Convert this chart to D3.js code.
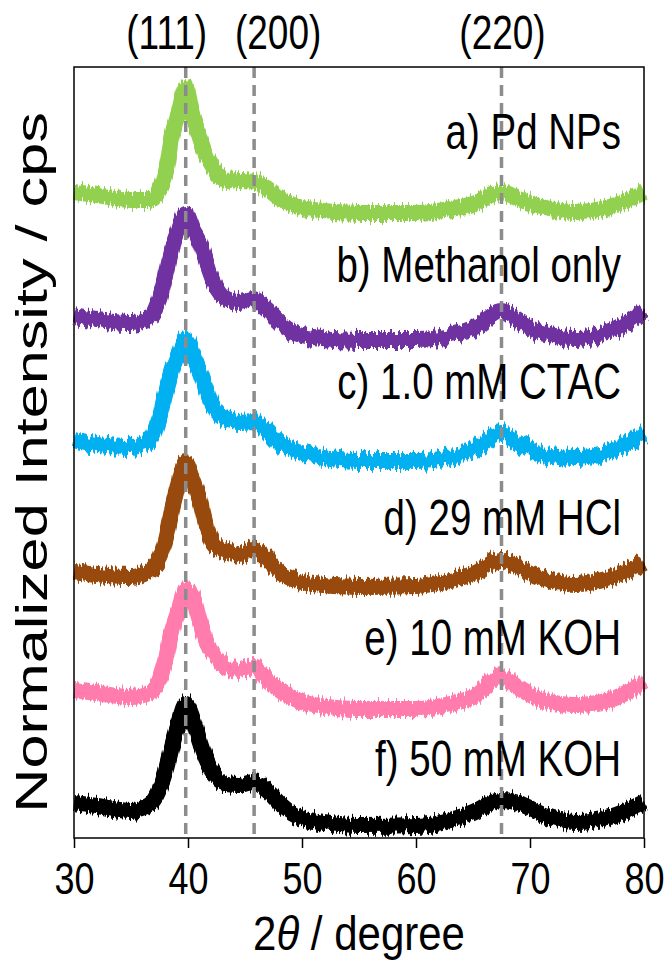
<!DOCTYPE html>
<html>
<head>
<meta charset="utf-8">
<script src="https://cdn.jsdelivr.net/npm/d3@7"></script>
<style>
  html, body { margin: 0; padding: 0; background: #ffffff; }
  svg { display: block; }
  text { font-family: "Liberation Sans", Arial, sans-serif; fill: #000; }
</style>
</head>
<body>
<svg id="chart" width="669" height="960"></svg>
<script>
// 2θ positions (degree) at which the stacked, normalized traces are sampled
const angles = [30, 32, 35, 36.6, 37.5, 38.1, 38.6, 39.2, 39.8, 40.4, 41, 41.6, 42.2, 43.4, 44.5,
                45.7, 46.9, 48, 49.2, 51, 55, 60, 63, 65, 67.5, 69, 71, 74, 77, 80];

// Offset, normalized intensity for each sample (arbitrary units, traces stacked)
const pdNPs        = [646, 643, 638, 638, 648, 668, 702, 726, 750, 723, 702, 683, 670, 657, 658,
                      657, 650, 640, 633, 628, 625, 625, 629, 634, 646, 639, 631, 626, 631, 646];
const methanolOnly = [522, 518, 515, 520, 540, 566, 590, 610, 624, 609, 596, 576, 557, 539, 536,
                      539, 529, 516, 506, 501, 498, 498, 502, 509, 527, 517, 505, 500, 506, 527];
const ctac         = [398, 393, 391, 397, 421, 448, 468, 485, 500, 485, 468, 448, 432, 419, 416,
                      417, 408, 395, 388, 382, 377, 377, 381, 388, 405, 395, 384, 380, 386, 405];
const hcl          = [266, 263, 261, 267, 279, 302, 329, 356, 376, 359, 339, 312, 296, 286, 282,
                      289, 279, 266, 259, 254, 251, 252, 258, 264, 278, 271, 260, 254, 260, 275];
const koh10        = [148, 145, 141, 145, 159, 182, 208, 229, 248, 242, 218, 196, 185, 171, 168,
                      172, 159, 148, 140, 133, 129, 129, 134, 141, 161, 150, 138, 133, 138, 156];
const koh50        = [35, 32, 27, 33, 49, 69, 92, 116, 134, 120, 98, 78, 65, 54, 53,
                       56, 48, 35, 24, 17, 12, 13, 18, 26, 38, 35, 24, 16, 21, 36];

const seriesNames  = ["a) Pd NPs", "b) Methanol only", "c) 1.0 mM CTAC",
                      "d) 29 mM HCl", "e) 10 mM KOH", "f) 50 mM KOH"];
const seriesColors = ["#92d050", "#7030a0", "#00b0f0", "#984807", "#ff7cac", "#000000"];
const seriesValues = [pdNPs, methanolOnly, ctac, hcl, koh10, koh50];
// Baseline of each sample label, in the same units as the traces
const labelLevels  = [689, 556, 439, 303, 183, 62];

// Reference reflections of fcc Pd
const reflections  = [{ hkl: "(111)", angle: 39.8 }, { hkl: "(200)", angle: 45.8 }, { hkl: "(220)", angle: 67.5 }];
const xTicks       = [30, 40, 50, 60, 70, 80];

const svg = d3.select("#chart");
const plotLeft = 74, plotRight = 644, plotTop = 67, plotBottom = 838;
const stretch = 1.3;   // tall lettering used throughout the figure

const x = d3.scaleLinear().domain([30, 80]).range([plotLeft, plotRight]);
const y = d3.scaleLinear().domain([0, 771]).range([plotBottom, plotTop]);

// counting-noise texture on the measured traces (vertical jitter only)
const defs = svg.append("defs");
const flt = defs.append("filter")
  .attr("id", "counts")
  .attr("filterUnits", "userSpaceOnUse")
  .attr("x", 0).attr("y", 0).attr("width", 669).attr("height", 960);
flt.append("feTurbulence")
  .attr("type", "fractalNoise")
  .attr("baseFrequency", "0.5 0.01")
  .attr("numOctaves", 1)
  .attr("seed", 3)
  .attr("result", "turb");
flt.append("feColorMatrix")
  .attr("in", "turb")
  .attr("type", "matrix")
  .attr("values", "0 0 0 0 0.5  0 1 0 0 0  0 0 0 0 0  0 0 0 0 1")
  .attr("result", "shift");
flt.append("feDisplacementMap")
  .attr("in", "SourceGraphic")
  .attr("in2", "shift")
  .attr("scale", 16)
  .attr("xChannelSelector", "R")
  .attr("yChannelSelector", "G");

// traces
const line = d3.line()
  .x(d => x(d[0]))
  .y(d => y(d[1]))
  .curve(d3.curveMonotoneX);

const traces = svg.append("g").attr("filter", "url(#counts)");
seriesValues.forEach((vals, i) => {
  traces.append("path")
    .datum(angles.map((a, k) => [a, vals[k]]))
    .attr("d", line)
    .attr("fill", "none")
    .attr("stroke", seriesColors[i])
    .attr("stroke-width", 16)
    .attr("stroke-linejoin", "round");
});

// reflection markers
svg.selectAll("line.ref")
  .data(reflections)
  .join("line")
  .attr("class", "ref")
  .attr("x1", d => x(d.angle)).attr("x2", d => x(d.angle))
  .attr("y1", plotTop).attr("y2", plotBottom - 4)
  .attr("stroke", "#8c8c8c")
  .attr("stroke-width", 3.5)
  .attr("stroke-dasharray", "11,7");

// reflection labels
const hklOffset = { "(111)": -19, "(200)": 24, "(220)": 1 };
svg.selectAll("text.hkl")
  .data(reflections)
  .join("text")
  .attr("class", "hkl")
  .attr("transform", d => `translate(${x(d.angle) + hklOffset[d.hkl]},49) scale(1,${stretch})`)
  .attr("text-anchor", "middle")
  .attr("font-size", 37)
  .text(d => d.hkl);

// sample labels
svg.selectAll("text.sample")
  .data(seriesNames)
  .join("text")
  .attr("class", "sample")
  .attr("transform", (d, i) => `translate(621,${y(labelLevels[i])}) scale(1,${stretch})`)
  .attr("text-anchor", "end")
  .attr("font-size", 38.5)
  .text(d => d);

// frame
svg.append("rect")
  .attr("x", plotLeft).attr("y", plotTop)
  .attr("width", plotRight - plotLeft).attr("height", plotBottom - plotTop)
  .attr("fill", "none")
  .attr("stroke", "#000")
  .attr("stroke-width", 1.5);

// bottom axis
const xAxis = d3.axisBottom(x).tickValues(xTicks).tickSize(10).tickFormat(d3.format("d"));
const gx = svg.append("g").attr("transform", `translate(0,${plotBottom})`).call(xAxis);
gx.select(".domain").remove();
gx.selectAll(".tick line").attr("stroke", "#000").attr("stroke-width", 1.5);
gx.selectAll(".tick text")
  .attr("y", null).attr("dy", null)
  .attr("transform", "translate(0,56) scale(1,1.22)")
  .attr("font-size", 36)
  .attr("font-family", "Liberation Sans, Arial, sans-serif")
  .attr("fill", "#000");

// axis titles
const xt = svg.append("text")
  .attr("transform", `translate(${x(55)},950) scale(1,1.15)`)
  .attr("text-anchor", "middle")
  .attr("font-size", 42);
xt.append("tspan").text("2");
xt.append("tspan").attr("font-style", "italic").text("θ");
xt.append("tspan").text(" / degree");

svg.append("text")
  .attr("transform", `translate(47,${(plotTop + plotBottom) / 2 + 10}) rotate(-90) scale(1.36,1)`)
  .attr("text-anchor", "middle")
  .attr("font-size", 45)
  .text("Normalized Intensity / cps");
</script>
</body>
</html>
